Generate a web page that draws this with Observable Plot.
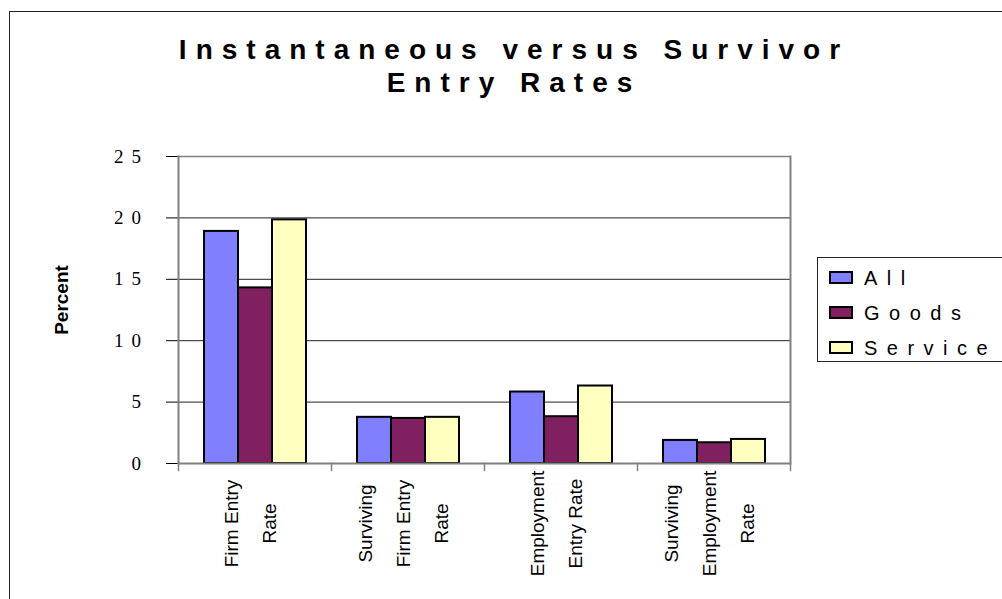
<!DOCTYPE html>
<html>
<head>
<meta charset="utf-8">
<script src="https://cdn.jsdelivr.net/npm/d3@7"></script>
<script src="https://cdn.jsdelivr.net/npm/@observablehq/plot@0.6"></script>
<style>
html, body { margin: 0; padding: 0; background: #fff; }
#wrap { position: relative; width: 1002px; height: 599px; overflow: hidden; font-family: "Liberation Sans", Arial, sans-serif; color: #000; }
#border { position: absolute; left: 9px; top: 11px; width: 1100px; height: 700px; border: 1.5px solid #222; box-sizing: border-box; }
#title { position: absolute; left: 0; top: 33px; width: 1028px; text-align: center; font-weight: bold; font-size: 28px; line-height: 33px; letter-spacing: 9px; }
#ylabel { position: absolute; left: 61px; top: 300px; transform: translate(-50%, -50%) rotate(-90deg); font-weight: bold; font-size: 19px; line-height: 19px; white-space: nowrap; }
#chart { position: absolute; left: 0; top: 0; }
#legend { position: absolute; left: 817px; top: 257px; width: 220px; height: 105px; border: 1px solid #222; box-sizing: border-box; background: #fff; padding-top: 2px; }
.row { display: flex; align-items: center; height: 35px; }
.sw { width: 24px; height: 13px; border: 2px solid #000; box-sizing: border-box; margin-left: 11px; margin-right: 11px; }
.lab { font-size: 20px; letter-spacing: 9.5px; line-height: 20px; }
#wrap svg g[aria-label="y-axis tick label"] { font-family: "Liberation Serif", "Times New Roman", serif; font-size: 19px; letter-spacing: 8px; }
#wrap svg g[aria-label="y-axis tick"] { stroke: #000; }
</style>
</head>
<body>
<div id="wrap">
  <div id="border"></div>
  <div id="title">Instantaneous versus Survivor<br>Entry Rates</div>
  <div id="ylabel">Percent</div>
  <div id="chart"></div>
  <div id="legend"></div>
</div>
<script>
const categories = ["Firm Entry Rate", "Surviving Firm Entry Rate", "Employment Entry Rate", "Surviving Employment Rate"];
const categoryLabels = ["Firm Entry\nRate", "Surviving\nFirm Entry\nRate", "Employment\nEntry Rate", "Surviving\nEmployment\nRate"];
const series = ["All", "Goods", "Service"];
const allValues = [18.9, 3.76, 5.82, 1.88];
const goodsValues = [14.3, 3.67, 3.81, 1.69];
const serviceValues = [19.84, 3.76, 6.31, 1.96];
const colors = ["#8080FF", "#802060", "#FFFFC0"];
const yTicks = [0, 5, 10, 15, 20, 25];

const seriesValues = [allValues, goodsValues, serviceValues];
const data = categories.flatMap((c, i) => series.map((s, j) => ({category: c, series: s, value: seriesValues[j][i]})));

const chart = Plot.plot({
  width: 1002,
  height: 599,
  marginLeft: 176,
  marginRight: 211,
  marginTop: 156,
  marginBottom: 136,
  style: {background: "transparent", color: "#000", fontFamily: "Liberation Sans, Arial, sans-serif", overflow: "visible"},
  fx: {domain: categories, padding: 0, axis: null, label: null},
  x: {domain: series, paddingInner: 0, paddingOuter: 0.74, axis: null},
  y: {domain: [0, 25], ticks: yTicks, tickSize: 12, tickPadding: 17.5, label: null},
  color: {domain: series, range: colors},
  marks: [
    Plot.ruleY(yTicks.filter(t => t > 0 && t < 25), {stroke: "#222", strokeWidth: 1}),
    Plot.ruleY([25], {stroke: "#808080", strokeWidth: 1.5}),
    Plot.barY(data, {fx: "category", x: "series", y: "value", fill: "series", stroke: "#000", strokeWidth: 2}),
    Plot.ruleY([0], {stroke: "#808080", strokeWidth: 2}),
    Plot.frame({anchor: "left", facetAnchor: "left", stroke: "#808080", strokeWidth: 2}),
    Plot.frame({anchor: "right", facetAnchor: "right", stroke: "#808080", strokeWidth: 2}),
    Plot.frame({anchor: "left", insetTop: 307, insetBottom: -7, stroke: "#808080", strokeWidth: 1.5}),
    Plot.frame({anchor: "right", facetAnchor: "right", insetTop: 307, insetBottom: -7, stroke: "#808080", strokeWidth: 1.5}),
    Plot.text(categories, {
      fx: d => d,
      text: d => categoryLabels[categories.indexOf(d)],
      frameAnchor: "bottom",
      rotate: -90,
      dy: 60,
      dx: -10,
      textAnchor: "middle",
      lineAnchor: "middle",
      lineHeight: 2,
      fontSize: 19,
      fill: "#000"
    })
  ]
});
document.getElementById("chart").appendChild(chart);

const legend = document.getElementById("legend");
series.forEach((s, i) => {
  const row = document.createElement("div");
  row.className = "row";
  const sw = document.createElement("div");
  sw.className = "sw";
  sw.style.background = colors[i];
  const lab = document.createElement("span");
  lab.className = "lab";
  lab.textContent = s;
  row.appendChild(sw);
  row.appendChild(lab);
  legend.appendChild(row);
});
</script>
</body>
</html>
